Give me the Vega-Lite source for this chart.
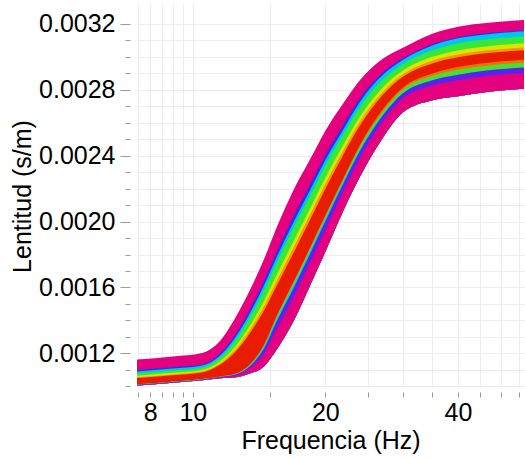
{
  "$schema": "https://vega.github.io/schema/vega-lite/v6.json",
  "width": 387,
  "height": 384,
  "autosize": {"type": "none"},
  "padding": {"left": 137, "top": 4, "right": 1, "bottom": 70},
  "background": "white",
  "config": {
    "view": {"stroke": null},
    "font": "Liberation Sans",
    "axis": {"labelFont": "Liberation Sans", "titleFont": "Liberation Sans"}
  },
  "resolve": {"axis": {"y": "independent"}},
  "data": {
    "values": [
      {"f": 7.3, "b0": 0.0011606, "b1": 0.0010976, "b2": 0.0010881, "b3": 0.0010771, "b4": 0.0010629, "b5": 0.0010535, "b6": 0.0010487, "b7": 0.0010109, "b8": 0.0010101, "b9": 0.0010093, "b10": 0.0010085, "b11": 0.0010070, "b12": 0.0010030},
      {"f": 9, "b0": 0.0011818, "b1": 0.0011176, "b2": 0.0011079, "b3": 0.0010967, "b4": 0.0010822, "b5": 0.0010726, "b6": 0.0010678, "b7": 0.0010292, "b8": 0.0010284, "b9": 0.0010276, "b10": 0.0010268, "b11": 0.0010252, "b12": 0.0010212},
      {"f": 10.5, "b0": 0.0012030, "b1": 0.0011333, "b2": 0.0011264, "b3": 0.0011147, "b4": 0.0010997, "b5": 0.0010897, "b6": 0.0010847, "b7": 0.0010447, "b8": 0.0010439, "b9": 0.0010430, "b10": 0.0010422, "b11": 0.0010405, "b12": 0.0010364},
      {"f": 11.5, "b0": 0.0012727, "b1": 0.0011965, "b2": 0.0011841, "b3": 0.0011700, "b4": 0.0011492, "b5": 0.0011364, "b6": 0.0011290, "b7": 0.0010597, "b8": 0.0010585, "b9": 0.0010575, "b10": 0.0010563, "b11": 0.0010541, "b12": 0.0010485},
      {"f": 12.5, "b0": 0.0014182, "b1": 0.0013164, "b2": 0.0012978, "b3": 0.0012778, "b4": 0.0012429, "b5": 0.0012233, "b6": 0.0012102, "b7": 0.0010773, "b8": 0.0010753, "b9": 0.0010733, "b10": 0.0010712, "b11": 0.0010664, "b12": 0.0010545},
      {"f": 13.5, "b0": 0.0015879, "b1": 0.0014708, "b2": 0.0014467, "b3": 0.0014219, "b4": 0.0013718, "b5": 0.0013456, "b6": 0.0013259, "b7": 0.0011361, "b8": 0.0011329, "b9": 0.0011284, "b10": 0.0011239, "b11": 0.0011112, "b12": 0.0010788},
      {"f": 14.5, "b0": 0.0017697, "b1": 0.0016400, "b2": 0.0016108, "b3": 0.0015816, "b4": 0.0015168, "b5": 0.0014844, "b6": 0.0014584, "b7": 0.0012509, "b8": 0.0012457, "b9": 0.0012367, "b10": 0.0012276, "b11": 0.0011978, "b12": 0.0011212},
      {"f": 15.5, "b0": 0.0019636, "b1": 0.0018158, "b2": 0.0017825, "b3": 0.0017492, "b4": 0.0016753, "b5": 0.0016383, "b6": 0.0016087, "b7": 0.0014276, "b8": 0.0014205, "b9": 0.0014068, "b10": 0.0013932, "b11": 0.0013459, "b12": 0.0012242},
      {"f": 17, "b0": 0.0022000, "b1": 0.0020412, "b2": 0.0020055, "b3": 0.0019698, "b4": 0.0018904, "b5": 0.0018507, "b6": 0.0018189, "b7": 0.0016442, "b8": 0.0016363, "b9": 0.0016204, "b10": 0.0016045, "b11": 0.0015490, "b12": 0.0014061},
      {"f": 18.5, "b0": 0.0023818, "b1": 0.0022291, "b2": 0.0021947, "b3": 0.0021604, "b4": 0.0020840, "b5": 0.0020458, "b6": 0.0020153, "b7": 0.0018473, "b8": 0.0018396, "b9": 0.0018244, "b10": 0.0018091, "b11": 0.0017556, "b12": 0.0016182},
      {"f": 20, "b0": 0.0025515, "b1": 0.0024048, "b2": 0.0023718, "b3": 0.0023388, "b4": 0.0022655, "b5": 0.0022288, "b6": 0.0021995, "b7": 0.0020382, "b8": 0.0020308, "b9": 0.0020162, "b10": 0.0020015, "b11": 0.0019502, "b12": 0.0018182},
      {"f": 22, "b0": 0.0027212, "b1": 0.0025909, "b2": 0.0025616, "b3": 0.0025322, "b4": 0.0024671, "b5": 0.0024345, "b6": 0.0024085, "b7": 0.0022652, "b8": 0.0022586, "b9": 0.0022456, "b10": 0.0022325, "b11": 0.0021870, "b12": 0.0020697},
      {"f": 24, "b0": 0.0028606, "b1": 0.0027510, "b2": 0.0027290, "b3": 0.0026983, "b4": 0.0026398, "b5": 0.0026091, "b6": 0.0025857, "b7": 0.0024687, "b8": 0.0024585, "b9": 0.0024395, "b10": 0.0024307, "b11": 0.0023884, "b12": 0.0022758},
      {"f": 27, "b0": 0.0029879, "b1": 0.0029041, "b2": 0.0028897, "b3": 0.0028610, "b4": 0.0028131, "b5": 0.0027868, "b6": 0.0027676, "b7": 0.0026815, "b8": 0.0026695, "b9": 0.0026479, "b10": 0.0026432, "b11": 0.0026072, "b12": 0.0025091},
      {"f": 30, "b0": 0.0030545, "b1": 0.0029901, "b2": 0.0029807, "b3": 0.0029548, "b4": 0.0029158, "b5": 0.0028935, "b6": 0.0028779, "b7": 0.0028138, "b8": 0.0028016, "b9": 0.0027801, "b10": 0.0027778, "b11": 0.0027477, "b12": 0.0026636},
      {"f": 35, "b0": 0.0031394, "b1": 0.0030759, "b2": 0.0030681, "b3": 0.0030396, "b4": 0.0029993, "b5": 0.0029758, "b6": 0.0029596, "b7": 0.0028984, "b8": 0.0028841, "b9": 0.0028589, "b10": 0.0028577, "b11": 0.0028261, "b12": 0.0027364},
      {"f": 40, "b0": 0.0031818, "b1": 0.0031186, "b2": 0.0031123, "b3": 0.0030807, "b4": 0.0030386, "b5": 0.0030133, "b6": 0.0029965, "b7": 0.0029375, "b8": 0.0029207, "b9": 0.0028912, "b10": 0.0028912, "b11": 0.0028575, "b12": 0.0027606},
      {"f": 47, "b0": 0.0032061, "b1": 0.0031433, "b2": 0.0031370, "b3": 0.0031057, "b4": 0.0030639, "b5": 0.0030388, "b6": 0.0030221, "b7": 0.0029635, "b8": 0.0029468, "b9": 0.0029175, "b10": 0.0029175, "b11": 0.0028841, "b12": 0.0027879},
      {"f": 57, "b0": 0.0032242, "b1": 0.0031615, "b2": 0.0031552, "b3": 0.0031239, "b4": 0.0030821, "b5": 0.0030570, "b6": 0.0030402, "b7": 0.0029817, "b8": 0.0029650, "b9": 0.0029357, "b10": 0.0029357, "b11": 0.0029022, "b12": 0.0028061}
    ]
  },
  "encoding": {
    "x": {
      "field": "f",
      "type": "quantitative",
      "title": "Frequencia (Hz)",
      "scale": {"type": "log", "domain": [7.47, 56.5], "nice": false},
      "axis": {
        "values": [7.5, 8, 8.5, 9, 9.5, 10, 15, 20, 25, 30, 35, 40, 45, 50, 55],
        "labelExpr": "indexof([8, 10, 20, 40], datum.value) >= 0 ? format(datum.value, 'd') : ''",
        "domain": false,
        "offset": 4,
        "tickSize": 5,
        "tickColor": "#9a9a9a",
        "grid": true,
        "gridColor": "#ececec",
        "labelFontSize": 25,
        "labelColor": "#000000",
        "labelPadding": 3,
        "labelFlush": false,
        "labelOverlap": false,
        "titleFontSize": 25,
        "titleFontWeight": "normal",
        "titleColor": "#000000",
        "titlePadding": 3
      }
    }
  },
  "layer": [
    {
      "mark": {"type": "area", "interpolate": "monotone", "clip": true, "color": "#e4007f"},
      "encoding": {
        "y": {
          "field": "b0",
          "type": "quantitative",
          "title": "Lentitud (s/m)",
          "scale": {"domain": [0.00099, 0.00332], "nice": false, "zero": false},
          "axis": {
            "values": [0.001, 0.0011, 0.0012, 0.0013, 0.0014, 0.0015, 0.0016, 0.0017, 0.0018, 0.0019, 0.002, 0.0021, 0.0022, 0.0023, 0.0024, 0.0025, 0.0026, 0.0027, 0.0028, 0.0029, 0.003, 0.0031, 0.0032],
            "labelExpr": "round(datum.value * 10000) % 4 == 0 ? format(datum.value, '.4f') : ''",
            "domain": false,
            "offset": 7,
            "tickSize": {"condition": {"test": "round(datum.value * 10000) % 4 == 0", "value": 10}, "value": 5},
            "tickColor": "#9a9a9a",
            "grid": true,
            "gridColor": "#ececec",
            "labelFontSize": 25,
            "labelColor": "#000000",
            "labelPadding": 5,
            "labelFlush": false,
            "labelOverlap": false,
            "titleFontSize": 25,
            "titleFontWeight": "normal",
            "titleColor": "#000000",
            "titlePadding": 3
          }
        },
        "y2": {"field": "b12"}
      }
    },
    {"mark": {"type": "area", "interpolate": "monotone", "clip": true, "color": "#2e2ef2"}, "encoding": {"y": {"field": "b1", "type": "quantitative", "axis": null}, "y2": {"field": "b12"}}},
    {"mark": {"type": "area", "interpolate": "monotone", "clip": true, "color": "#00c6ee"}, "encoding": {"y": {"field": "b2", "type": "quantitative", "axis": null}, "y2": {"field": "b12"}}},
    {"mark": {"type": "area", "interpolate": "monotone", "clip": true, "color": "#38e838"}, "encoding": {"y": {"field": "b3", "type": "quantitative", "axis": null}, "y2": {"field": "b12"}}},
    {"mark": {"type": "area", "interpolate": "monotone", "clip": true, "color": "#dde400"}, "encoding": {"y": {"field": "b4", "type": "quantitative", "axis": null}, "y2": {"field": "b12"}}},
    {"mark": {"type": "area", "interpolate": "monotone", "clip": true, "color": "#f29a00"}, "encoding": {"y": {"field": "b5", "type": "quantitative", "axis": null}, "y2": {"field": "b12"}}},
    {"mark": {"type": "area", "interpolate": "monotone", "clip": true, "color": "#e81c00"}, "encoding": {"y": {"field": "b6", "type": "quantitative", "axis": null}, "y2": {"field": "b12"}}},
    {"mark": {"type": "area", "interpolate": "monotone", "clip": true, "color": "#f07000"}, "encoding": {"y": {"field": "b7", "type": "quantitative", "axis": null}, "y2": {"field": "b12"}}},
    {"mark": {"type": "area", "interpolate": "monotone", "clip": true, "color": "#48e030"}, "encoding": {"y": {"field": "b8", "type": "quantitative", "axis": null}, "y2": {"field": "b12"}}},
    {"mark": {"type": "area", "interpolate": "monotone", "clip": true, "color": "#00c6ee"}, "encoding": {"y": {"field": "b9", "type": "quantitative", "axis": null}, "y2": {"field": "b12"}}},
    {"mark": {"type": "area", "interpolate": "monotone", "clip": true, "color": "#5a22ee"}, "encoding": {"y": {"field": "b10", "type": "quantitative", "axis": null}, "y2": {"field": "b12"}}},
    {"mark": {"type": "area", "interpolate": "monotone", "clip": true, "color": "#e4007f"}, "encoding": {"y": {"field": "b11", "type": "quantitative", "axis": null}, "y2": {"field": "b12"}}}
  ]
}
